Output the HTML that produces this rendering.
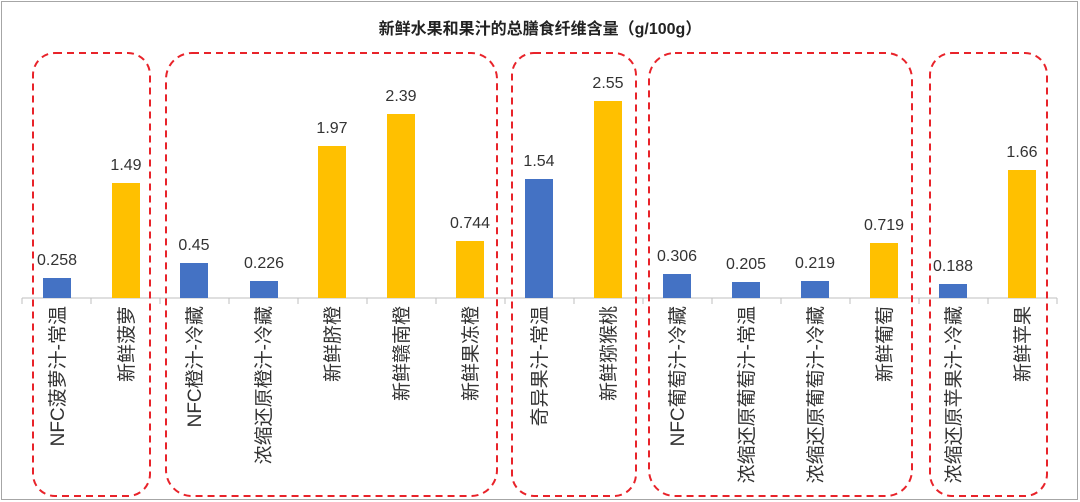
<!DOCTYPE html>
<html><head><meta charset="utf-8"><style>
html,body{margin:0;padding:0;background:#fff}
svg{display:block}
text{font-family:"Liberation Sans","Noto Sans CJK SC",sans-serif}
</style></head><body>
<svg width="1080" height="502" viewBox="0 0 1080 502">
<rect x="1.5" y="1.5" width="1076" height="498" fill="#fff" stroke="#a6a6a6"/>
<text x="540" y="34" text-anchor="middle" font-size="16" font-weight="bold" fill="#222">新鲜水果和果汁的总膳食纤维含量（g/100g）</text>
<g stroke="#bfbfbf" stroke-width="1">
<line x1="22" y1="298" x2="1057" y2="298"/>
<line x1="22" y1="298" x2="22" y2="304"/><line x1="91" y1="298" x2="91" y2="304"/><line x1="160" y1="298" x2="160" y2="304"/><line x1="229" y1="298" x2="229" y2="304"/><line x1="298" y1="298" x2="298" y2="304"/><line x1="367" y1="298" x2="367" y2="304"/><line x1="436" y1="298" x2="436" y2="304"/><line x1="505" y1="298" x2="505" y2="304"/><line x1="574" y1="298" x2="574" y2="304"/><line x1="643" y1="298" x2="643" y2="304"/><line x1="712" y1="298" x2="712" y2="304"/><line x1="781" y1="298" x2="781" y2="304"/><line x1="850" y1="298" x2="850" y2="304"/><line x1="919" y1="298" x2="919" y2="304"/><line x1="988" y1="298" x2="988" y2="304"/><line x1="1057" y1="298" x2="1057" y2="304"/>
</g>
<g font-size="16" fill="#333" text-anchor="middle">
<rect x="43" y="278" width="28" height="20" fill="#4472c4"/><text x="57" y="265">0.258</text>
<rect x="112" y="183" width="28" height="115" fill="#ffc000"/><text x="126" y="170">1.49</text>
<rect x="180" y="263" width="28" height="35" fill="#4472c4"/><text x="194" y="250">0.45</text>
<rect x="250" y="281" width="28" height="17" fill="#4472c4"/><text x="264" y="268">0.226</text>
<rect x="318" y="146" width="28" height="152" fill="#ffc000"/><text x="332" y="133">1.97</text>
<rect x="387" y="114" width="28" height="184" fill="#ffc000"/><text x="401" y="101">2.39</text>
<rect x="456" y="241" width="28" height="57" fill="#ffc000"/><text x="470" y="228">0.744</text>
<rect x="525" y="179" width="28" height="119" fill="#4472c4"/><text x="539" y="166">1.54</text>
<rect x="594" y="101" width="28" height="197" fill="#ffc000"/><text x="608" y="88">2.55</text>
<rect x="663" y="274" width="28" height="24" fill="#4472c4"/><text x="677" y="261">0.306</text>
<rect x="732" y="282" width="28" height="16" fill="#4472c4"/><text x="746" y="269">0.205</text>
<rect x="801" y="281" width="28" height="17" fill="#4472c4"/><text x="815" y="268">0.219</text>
<rect x="870" y="243" width="28" height="55" fill="#ffc000"/><text x="884" y="230">0.719</text>
<rect x="939" y="284" width="28" height="14" fill="#4472c4"/><text x="953" y="271">0.188</text>
<rect x="1008" y="170" width="28" height="128" fill="#ffc000"/><text x="1022" y="157">1.66</text>
</g>
<g font-size="19" fill="#333" text-anchor="end">
<text transform="translate(64,306) rotate(-90)">NFC菠萝汁-常温</text>
<text transform="translate(133,306) rotate(-90)">新鲜菠萝</text>
<text transform="translate(201,306) rotate(-90)">NFC橙汁-冷藏</text>
<text transform="translate(270,306) rotate(-90)">浓缩还原橙汁-冷藏</text>
<text transform="translate(339,306) rotate(-90)">新鲜脐橙</text>
<text transform="translate(408,306) rotate(-90)">新鲜赣南橙</text>
<text transform="translate(477,306) rotate(-90)">新鲜果冻橙</text>
<text transform="translate(546,306) rotate(-90)">奇异果汁-常温</text>
<text transform="translate(615,306) rotate(-90)">新鲜猕猴桃</text>
<text transform="translate(684,306) rotate(-90)">NFC葡萄汁-冷藏</text>
<text transform="translate(753,306) rotate(-90)">浓缩还原葡萄汁-常温</text>
<text transform="translate(822,306) rotate(-90)">浓缩还原葡萄汁-冷藏</text>
<text transform="translate(891,306) rotate(-90)">新鲜葡萄</text>
<text transform="translate(960,306) rotate(-90)">浓缩还原苹果汁-冷藏</text>
<text transform="translate(1029,306) rotate(-90)">新鲜苹果</text>
</g>
<g fill="none" stroke="#e8232a" stroke-width="2" stroke-dasharray="7,5">
<rect x="33" y="53" width="117" height="443" rx="22"/>
<rect x="166" y="53" width="331" height="443" rx="26"/>
<rect x="512" y="53" width="124" height="443" rx="22"/>
<rect x="649" y="53" width="263" height="443" rx="26"/>
<rect x="930" y="53" width="117" height="443" rx="22"/>
</g>
</svg>
</body></html>
